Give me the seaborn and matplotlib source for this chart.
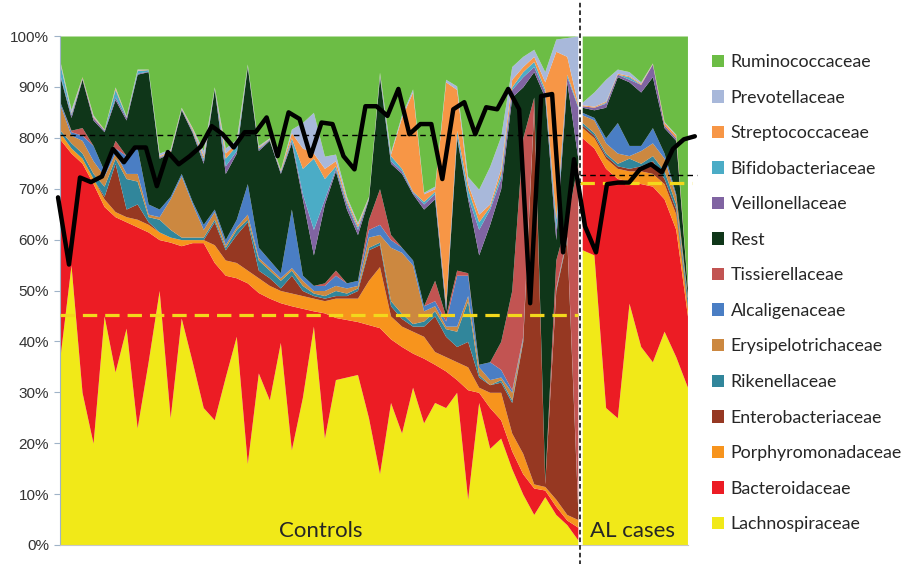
import numpy as np
import matplotlib
matplotlib.use("Agg")
import matplotlib.pyplot as plt
from matplotlib.patches import Patch
import seaborn as sns

# bacterial families, bottom of the stack first
families = ["Lachnospiraceae", "Bacteroidaceae", "Porphyromonadaceae", "Enterobacteriaceae",
            "Rikenellaceae", "Erysipelotrichaceae", "Alcaligenaceae", "Tissierellaceae", "Rest",
            "Veillonellaceae", "Bifidobacteriaceae", "Streptococcaceae", "Prevotellaceae",
            "Ruminococcaceae"]
family_colors = ["#f1e918", "#ec1c24", "#f7941d", "#963822", "#31869b", "#cc8840", "#4a7ec4",
                 "#c25452", "#0f3619", "#8064a2", "#4bacc6", "#f79646", "#a8b8da", "#6cbd45"]

n_controls = 48
n_al = 10

# upper edge of each band in % (stacked), 48 controls then 10 AL cases
top_lachno = [37, 55, 30, 20, 45, 34, 42.6, 23, 36, 50, 25, 44.6, 36, 27, 24.6, 33, 41, 16, 33.8, 28.5,
              39.8, 18.7, 29, 43, 21, 32.5, 33, 33.5, 25, 14, 28, 22, 31, 24, 28, 27, 30, 9, 28, 19,
              21, 15, 10, 6, 9.5, 6, 4, 1,
              58, 57, 27, 25, 47.5, 39, 36, 42, 37, 31]
top_bactero = [79.7, 77, 75, 71, 66.5, 64.5, 63.5, 62.5, 61.5, 60, 59.5, 58.8, 59.4, 59.4, 55.5, 53, 52.5, 51.5, 49.6, 48.5,
               47.6, 47, 46.5, 46, 45.6, 44.7, 44.3, 43.9, 43.3, 42.7, 40.5, 39, 37.7, 36.7, 35.5, 34.2, 32.5, 30.5, 30, 27,
               24.6, 18.5, 14, 11.2, 10.8, 7.6, 4.9, 3.5,
               80, 78, 74, 72, 71.5, 71, 70.5, 68, 62, 45]
top_porphyro = [81, 78, 76, 72, 68, 65.5, 64.5, 64, 63, 61.5, 60.5, 60, 60, 60, 59, 56, 55.5, 54, 52.5, 51,
                50, 49.5, 49, 48.5, 48, 48.5, 48.5, 48.5, 52, 54.7, 45, 43, 42, 41, 38, 37, 36, 35, 31, 30,
                30, 22, 18, 12, 11.5, 9, 6, 5,
                82, 80, 76, 74, 73.5, 73.5, 73, 71, 65, 46.5]
top_entero = [81, 78, 76, 72, 68.5, 75, 66, 67, 63.5, 61.5, 60.5, 60, 60, 60, 63.5, 58, 61, 63.5, 54, 52.5,
              50.5, 53, 50, 49, 48.5, 49, 49, 50, 58, 59, 47, 44.5, 43, 43, 45, 41, 39, 40, 33, 31.5,
              32, 28, 40, 86, 12, 50, 60, 6.5,
              82.5, 80.5, 76.5, 74.5, 74, 74.5, 75.5, 72, 66, 47]
top_rikenell = [81.5, 79, 77, 73, 70.5, 76, 72, 71.5, 64.5, 64, 62, 60.5, 60.5, 60.5, 64, 58.5, 62, 64, 56, 54,
                52, 54, 51, 49.5, 49, 50, 49.5, 50.5, 58.5, 59.5, 48, 45.5, 43.5, 44, 46, 42.5, 42, 48, 33.5, 31.5,
                32.5, 28.5, 40.3, 86.2, 12, 50.2, 60.2, 6.7,
                83, 81, 77, 75, 76, 75, 76.5, 73.5, 67, 48.5]
top_erysipel = [86.5, 80.5, 79.5, 75.5, 72.5, 77, 73, 73, 65, 64.5, 68, 72.5, 67, 62, 65.5, 59, 62.5, 65, 56.5, 54.5,
                52.5, 54.5, 52, 50, 50, 51, 50.5, 51, 60.5, 61, 58.5, 57.5, 55, 46, 47, 43, 43, 49, 35, 32.5,
                33, 30, 40.6, 86.4, 12, 50.4, 60.4, 6.9,
                84.5, 83.5, 79, 77, 76.5, 77.5, 79, 76, 68.5, 49]
top_alcalig = [87, 81.2, 80.5, 78.5, 73.5, 78, 76.5, 78, 67, 66, 68.5, 73, 67.5, 63, 66, 60, 64, 71, 58.5, 56,
               53.5, 66, 53, 51, 51, 53, 51.5, 52, 62, 63, 60, 58.5, 56, 47, 48, 44, 53, 53, 35.5, 36,
               34.5, 30.5, 41, 86.6, 12, 50.6, 60.6, 7.1,
               85, 84, 80, 83, 78.5, 78.5, 82, 77, 69, 49]
top_tissier = [87, 81.5, 82, 78.5, 73.5, 79.5, 76.5, 78, 67, 66, 68.5, 73, 67.5, 63, 66, 60, 64, 71, 58.5, 56,
               53.5, 66, 53, 51, 51.5, 54, 51.5, 52, 64, 70, 61, 58.5, 56, 47, 52, 45, 54, 53.5, 35.5, 36,
               40, 50, 80, 88, 12.5, 56, 64, 75,
               85, 84, 80, 83, 78.5, 78.5, 82, 77, 69, 49]
top_rest = [92, 84, 91.5, 83.5, 81.2, 87.5, 83.5, 92.5, 93, 76, 77, 85.5, 81, 75, 89.6, 73, 77, 94, 77.5, 79.5,
            73, 79, 68, 57, 67, 73.5, 66, 61, 68, 92, 75, 73, 69, 66, 68, 46, 80, 68, 57, 63,
            70, 88, 90, 93, 88, 60, 91, 76,
            86, 85.5, 86, 92, 91, 89, 92, 82, 79.5, 50.5]
top_veillon = [92.3, 84.5, 91.7, 84, 81.5, 88, 84, 92.7, 93.1, 76.2, 77.2, 85.7, 81.3, 75.5, 89.7, 74.5, 77.5, 94.1, 77.8, 79.7,
               73.3, 79.5, 69, 62, 68, 74, 67, 62, 68.2, 92.3, 75.5, 73.5, 69.3, 67, 69, 47, 80.5, 68.5, 62, 66,
               72, 89.5, 92, 94, 89, 62, 92, 86,
               86.3, 86, 86.8, 92.5, 91.5, 90.5, 94.5, 82.5, 80, 50.5]
top_bifido = [94.5, 84.8, 91.8, 84, 81.6, 89.5, 84.1, 93.2, 93.4, 76.3, 77.3, 85.8, 81.5, 76, 89.8, 76, 78.5, 94.2, 78, 79.8,
              73.5, 80, 74, 76, 72, 74.5, 67.5, 62.5, 68.3, 92.5, 76.5, 74, 69.5, 67.5, 69.5, 47.5, 81.5, 70, 63.5, 66.5,
              73, 90, 93, 95, 89.5, 64, 92.5, 86.3,
              86.3, 86, 87, 92.5, 92, 90.5, 94.5, 82.5, 80, 50.5]
top_strepto = [94.7, 85, 92, 84.2, 81.7, 89.8, 84.2, 93.3, 93.5, 76.5, 77.5, 85.9, 81.8, 76.5, 89.9, 77, 79, 94.3, 78.2, 79.9,
               73.7, 81, 78, 77, 74, 75.5, 68, 63, 68.4, 92.7, 76.8, 84, 89, 69, 70, 91, 89.5, 71, 65, 67,
               74, 91.5, 94, 96, 91, 97, 96, 86.6,
               86.5, 86.2, 87.2, 92.7, 92.2, 90.7, 94.6, 83, 80.5, 50.7]
top_prevot = [95, 85.6, 92, 84.5, 81.7, 90, 84.3, 93.5, 93.5, 77, 77.8, 86, 82, 77.5, 90, 78, 79.7, 94.5, 78.5, 80,
              73.8, 81.7, 83, 85, 76.4, 76.8, 68.5, 63.4, 68.5, 92.9, 77.2, 84.5, 89.6, 69.3, 70.5, 91.5, 90.2, 72.4, 69.9, 74.4,
              80.3, 94, 96, 97.4, 93, 99.4, 99.7, 100,
              87, 89, 91.5, 93.5, 93, 91, 94.7, 83.2, 80.7, 51]
# Ruminococcaceae fills the rest up to 100 %

# black line drawn over the areas (59 points)
diversity = [68.3, 55.1, 72.2, 71.3, 72.4, 77.8, 75.2, 78.1, 78.1, 70.5, 77.2, 74.8, 76.4, 78.3, 82.3, 80.7,
             78.1, 81.1, 81.1, 84.0, 76.4, 85.0, 83.7, 76.4, 83.0, 82.7, 76.4, 73.8, 86.2, 86.2, 84.3, 89.6,
             80.7, 82.7, 82.7, 71.9, 85.6, 87.0, 80.7, 86.0, 85.6, 89.6, 85.6, 47.5, 88.2, 88.6, 57.5, 75.8,
             62.6, 57.5, 70.9, 71.2, 71.2, 73.8, 74.8, 73.2, 77.8, 79.7, 80.3]

# group means shown as dashed lines
mean_line_controls = 80.6
mean_line_al = 72.7
mean_yellow_controls = 45.2
mean_yellow_al = 71.2

pct_ticks = [0, 10, 20, 30, 40, 50, 60, 70, 80, 90, 100]
pct_labels = ["0%", "10%", "20%", "30%", "40%", "50%", "60%", "70%", "80%", "90%", "100%"]

sns.set_style("white")
plt.rcParams["font.family"] = ["Liberation Sans", "DejaVu Sans"]

tops = np.array([top_lachno, top_bactero, top_porphyro, top_entero, top_rikenell, top_erysipel,
                 top_alcalig, top_tissier, top_rest, top_veillon, top_bifido, top_strepto, top_prevot],
                dtype=float)
n_all = n_controls + n_al
edges = np.vstack([np.zeros(n_all), tops, np.full(n_all, 100.0)])
shares = np.clip(np.diff(edges, axis=0), 0, None)

fig = plt.figure(figsize=(9.08, 5.64), dpi=100)
ax = fig.add_axes([60 / 908, 19 / 564, 628 / 908, 509 / 564])

# sample positions: controls and AL cases are two blocks with a small gap
x_controls = np.arange(n_controls)
x_al = np.linspace(47.4, 56.95, n_al)
ax.stackplot(x_controls, shares[:, :n_controls], colors=family_colors, lw=0)
ax.stackplot(x_al, shares[:, n_controls:], colors=family_colors, lw=0)

# group means
ax.hlines(mean_yellow_controls, 0, 47.0, colors="#f3d81c", linestyles=[(0, (4.5, 2.5))], lw=2.3, zorder=4)
ax.hlines(mean_yellow_al, 47.2, 57.4, colors="#f3d81c", linestyles=[(0, (4.5, 2.5))], lw=2.3,
          zorder=4, clip_on=False)
ax.hlines(mean_line_controls, 0, 47.0, colors="black", linestyles=[(0, (4, 3))], lw=1.0, zorder=5)
ax.hlines(mean_line_al, 47.2, 57.8, colors="black", linestyles=[(0, (4, 3))], lw=1.0, zorder=5,
          clip_on=False)

# split between controls and AL cases
ax.axvline(47.2, ymin=-0.04, ymax=1.075, color="black", ls=(0, (3, 2)), lw=1.1, clip_on=False, zorder=5)

x_line = np.linspace(-0.18, 57.62, len(diversity))
sns.lineplot(x=x_line, y=diversity, ax=ax, color="black", lw=3.2, clip_on=False, legend=False, zorder=6)

ax.set_xlim(0, 57)
ax.set_ylim(0, 100)
ax.set_xticks([])
ax.set_yticks(pct_ticks)
ax.set_yticklabels(pct_labels, fontsize=11, color="#333333")
ax.tick_params(axis="y", left=True, length=4, width=0.8, color="#9fb3c8", pad=4)
for side in ["top", "right"]:
    ax.spines[side].set_visible(False)
ax.spines["left"].set_color("#9fb3c8")
ax.spines["left"].set_linewidth(0.8)
ax.spines["bottom"].set_color("#c8c8c8")
ax.spines["bottom"].set_linewidth(0.8)
ax.set_xlabel("")
ax.set_ylabel("")

ax.text(23.7, 2.8, "Controls", ha="center", va="center", fontsize=16, family=["Lato", "DejaVu Sans"], zorder=7)
ax.text(52.0, 2.8, "AL cases", ha="center", va="center", fontsize=16, family=["Lato", "DejaVu Sans"], zorder=7)

handles = [Patch(facecolor=c, edgecolor="none") for c in family_colors[::-1]]
fig.legend(handles, families[::-1], loc="upper left", bbox_to_anchor=(712 / 908, 1 - 54 / 564),
           frameon=False, prop={"family": ["Lato", "DejaVu Sans"], "size": 12.8},
           handlelength=0.7, handleheight=0.7, handletextpad=0.35, labelspacing=1.1,
           borderpad=0, borderaxespad=0)

fig.savefig("out.png", dpi=100)
